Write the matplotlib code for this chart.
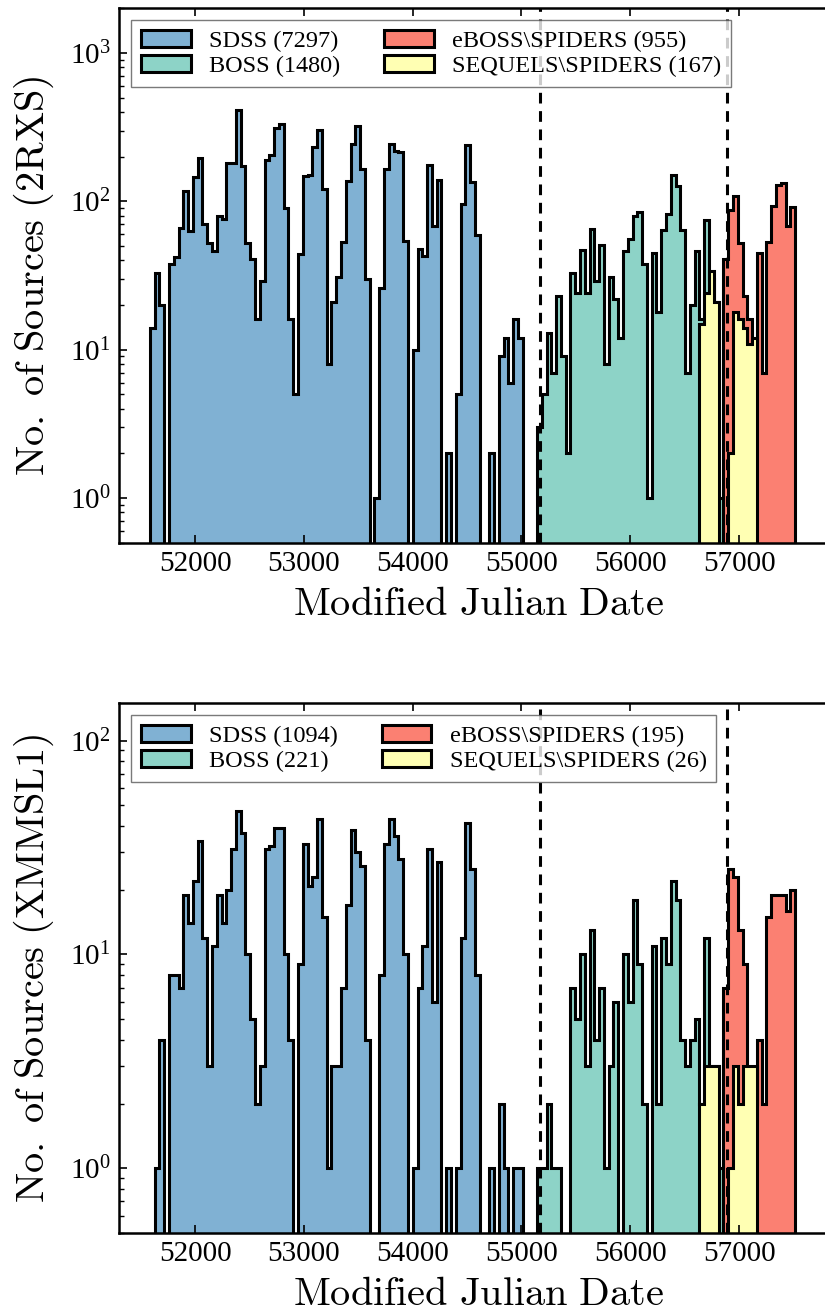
import numpy as np
import matplotlib.pyplot as plt

plt.rcParams['font.family'] = 'serif'
plt.rcParams['font.serif'] = ['Liberation Serif', 'DejaVu Serif']
plt.rcParams['mathtext.fontset'] = 'stix'

# common MJD binning shared by all surveys
mjd_lo, mjd_hi, nbins = 51584, 57515, 135
edges = np.linspace(mjd_lo, mjd_hi, nbins + 1)

boss_start = 55168
eboss_start = 56890

surveys = ['SDSS', 'BOSS', 'eBOSS\\SPIDERS', 'SEQUELS\\SPIDERS']
colors = ['#80b1d3', '#8dd3c7', '#fb8072', '#ffffb3']
first_bin = [0, 81, 120, 115]

# counts per bin, 2RXS
sdss_2rxs = [14, 33, 20, 0, 38, 42, 66, 118, 63, 145,
             196, 70, 52, 46, 79, 76, 182, 182, 410, 172,
             52, 41, 16, 29, 190, 204, 313, 333, 90, 16,
             5, 44, 147, 151, 232, 303, 121, 8, 21, 31,
             53, 138, 242, 320, 165, 30, 0, 1, 26, 164,
             244, 218, 214, 54, 0, 10, 48, 43, 177, 68,
             140, 0, 2, 0, 5, 96, 238, 134, 59, 0,
             0, 2, 0, 9, 12, 6, 16, 12]
boss_2rxs = [3, 5, 13, 7, 23, 9, 2, 33, 24, 47,
             24, 65, 29, 51, 8, 31, 22, 12, 46, 56,
             80, 85, 38, 1, 45, 18, 64, 82, 150, 127,
             64, 7, 20, 46, 16, 75, 30, 21, 1]
eboss_2rxs = [41, 87, 108, 52, 23, 16, 10, 45, 7, 53, 93, 128, 132, 68, 92]
sequels_2rxs = [15, 24, 34, 21, 0, 0, 2, 18, 16, 14, 11, 12]

# counts per bin, XMMSL1
sdss_xmm = [0, 1, 4, 0, 8, 8, 7, 19, 14, 22,
            34, 12, 3, 11, 19, 14, 20, 31, 47, 37,
            10, 5, 2, 3, 31, 32, 39, 39, 10, 4,
            0, 9, 33, 21, 23, 43, 15, 1, 3, 3,
            7, 17, 38, 30, 26, 4, 0, 0, 8, 33,
            43, 36, 28, 10, 0, 1, 7, 11, 31, 6,
            27, 0, 1, 0, 1, 12, 41, 25, 8, 0,
            0, 1, 0, 2, 1, 0, 1, 1]
boss_xmm = [1, 1, 2, 1, 1, 0, 0, 7, 5, 10,
            3, 13, 4, 7, 1, 3, 6, 0, 10, 6,
            18, 9, 2, 0, 11, 2, 12, 9, 22, 18,
            4, 3, 4, 5, 2, 12, 3, 3, 1]
eboss_xmm = [7, 25, 23, 13, 9, 2, 2, 4, 2, 15, 19, 19, 19, 16, 20]
sequels_xmm = [2, 3, 3, 3, 0, 0, 1, 3, 2, 3, 3, 3]


def plot_panel(ax, counts, ymax, ylabel):
    for c, name, col, k0 in zip(counts, surveys, colors, first_bin):
        c = np.array(c)
        bins = edges[k0:k0 + len(c) + 1]
        mids = 0.5 * (bins[1:] + bins[:-1])
        ax.hist(mids, bins=bins, weights=c, histtype='stepfilled', log=True,
                facecolor=col, edgecolor='k', lw=2.2,
                label='%s (%d)' % (name, c.sum()))
    for x in (boss_start, eboss_start):
        ax.axvline(x, color='k', ls=(0, (3.5, 2.5)), lw=2.2)
    ax.set_xlim(51300, 57900)
    ax.set_ylim(0.5, ymax)
    ax.set_xticks(np.arange(52000, 57001, 1000))
    ax.tick_params(which='both', direction='in', top=True, right=True)
    ax.tick_params(which='major', length=6, width=1.2, labelsize=21, pad=6)
    ax.tick_params(which='minor', length=3.5, width=1.0)
    for s in ax.spines.values():
        s.set_linewidth(1.8)
    ax.set_xlabel(r'$\mathrm{Modified\ Julian\ Date}$', fontsize=29,
                  math_fontfamily='cm', labelpad=7)
    ax.set_ylabel(ylabel, fontsize=29, math_fontfamily='cm', labelpad=10)
    leg = ax.legend(loc='upper left', ncol=2, fontsize=17.5, fancybox=False,
                    edgecolor='0.35', framealpha=0.8, handlelength=2.05,
                    handletextpad=0.75, columnspacing=1.8, labelspacing=0.12,
                    borderaxespad=0.5)
    leg.get_frame().set_linewidth(1.0)


fig = plt.figure(figsize=(8.25, 13.14), dpi=100)
ax1 = fig.add_axes([0.1442, 0.5870, 0.8703, 0.4067])
ax2 = fig.add_axes([0.1442, 0.0619, 0.8703, 0.4031])

plot_panel(ax1, [sdss_2rxs, boss_2rxs, eboss_2rxs, sequels_2rxs], 2000,
           r'$\mathrm{No.\ of\ Sources\ (2RXS)}$')
plot_panel(ax2, [sdss_xmm, boss_xmm, eboss_xmm, sequels_xmm], 150,
           r'$\mathrm{No.\ of\ Sources\ (XMMSL1)}$')

fig.savefig('out.png', dpi=100)
